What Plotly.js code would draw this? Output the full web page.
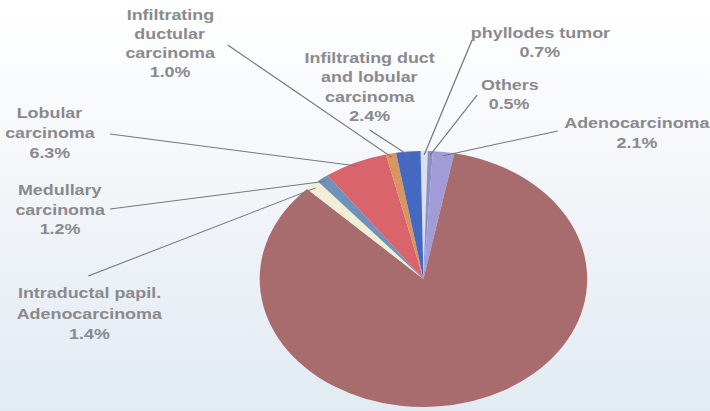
<!DOCTYPE html>
<html>
<head>
<meta charset="utf-8">
<script src="https://cdn.plot.ly/plotly-3.0.1.min.js"></script>
<style>
  html, body { margin: 0; padding: 0; width: 710px; height: 411px; overflow: hidden;
    background: linear-gradient(to bottom, #ffffff 0%, #f6f8fa 35%, #e9eff5 75%, #e2ebf3 100%); }
  #chart { width: 555px; height: 411px; transform: scaleX(1.2793); transform-origin: 0 0; }
</style>
</head>
<body>
<div id="chart"></div>
<script>
// ---- data (clockwise from 12 o'clock) ----
const categories = ['phyllodes tumor', 'Others', 'Adenocarcinoma', 'Infiltrating ductal carcinoma',
  'Intraductal papil. Adenocarcinoma', 'Medullary carcinoma', 'Lobular carcinoma',
  'Infiltrating ductular carcinoma', 'Infiltrating duct and lobular carcinoma'];
const percents = [0.7, 0.5, 2.1, 84.4, 1.4, 1.2, 6.3, 1.0, 2.4];
const showLabel = [true, true, true, false, true, true, true, true, true];
const labelNameLines = [
  ['phyllodes tumor'],
  ['Others'],
  ['Adenocarcinoma'],
  [],
  ['Intraductal papil.', 'Adenocarcinoma'],
  ['Medullary', 'carcinoma'],
  ['Lobular', 'carcinoma'],
  ['Infiltrating', 'ductular', 'carcinoma'],
  ['Infiltrating duct', 'and lobular', 'carcinoma']
];
const sliceColors = ['#dcdff0', '#8d8dc8', '#a19cd8', '#a86c6e', '#f2eed6', '#6f92bd',
  '#d9646c', '#d9955f', '#4568c0'];

// ---- layout (pixel positions in the unscaled 555x411 frame) ----
const W = 555, H = 411;
const pieCx = 331, pieCy = 279, pieR = 128;
const rotationDeg = -1;
// label block: center x, first-line y, line spacing; leader start
const labelPos = [
  {x: 422, y: 33, dy: 19, lx: 369, ly: 40},
  {x: 398, y: 85, dy: 19, lx: 373, ly: 95},
  {x: 498, y: 123, dy: 20, lx: 436, ly: 131},
  null,
  {x: 70, y: 293, dy: 20.5, lx: 69, ly: 276},
  {x: 47, y: 190, dy: 19.5, lx: 86, ly: 209},
  {x: 39, y: 113, dy: 20, lx: 86, ly: 134},
  {x: 133, y: 15, dy: 19, lx: 178, ly: 45},
  {x: 289, y: 58, dy: 19.3, lx: 289, ly: 130}
];

const px = v => v / W;
const py = v => 1 - v / H;

const total = percents.reduce((a, b) => a + b, 0);
const annotations = [];
const shapes = [];
let cum = 0;
percents.forEach((v, i) => {
  const mid = (rotationDeg + (cum + v / 2) / total * 360) * Math.PI / 180;
  cum += v;
  if (!showLabel[i]) return;
  const p = labelPos[i];
  const lines = labelNameLines[i].concat([v.toFixed(1) + '%']);
  lines.forEach((t, k) => {
    annotations.push({
      x: px(p.x), y: py(p.y + k * p.dy), xref: 'paper', yref: 'paper',
      text: t, showarrow: false, xanchor: 'center', yanchor: 'middle',
      font: {family: 'Liberation Sans, Arial, sans-serif', size: 14, color: '#8a8a8e', weight: 'bold'}
    });
  });
  const ex = pieCx + 0.97 * pieR * Math.sin(mid);
  const ey = pieCy - 0.97 * pieR * Math.cos(mid);
  shapes.push({
    type: 'line', xref: 'paper', yref: 'paper',
    x0: px(p.lx), y0: py(p.ly), x1: px(ex), y1: py(ey),
    line: {color: '#77777f', width: 1}
  });
});

const trace = {
  type: 'pie',
  labels: categories,
  values: percents,
  sort: false,
  direction: 'clockwise',
  rotation: rotationDeg,
  textinfo: 'none',
  hoverinfo: 'label+percent',
  marker: {colors: sliceColors, line: {width: 0}},
  domain: {
    x: [(pieCx - pieR) / W, (pieCx + pieR) / W],
    y: [1 - (pieCy + pieR) / H, 1 - (pieCy - pieR) / H]
  },
  showlegend: false
};

const layout = {
  width: W, height: H,
  margin: {l: 0, r: 0, t: 0, b: 0},
  paper_bgcolor: 'rgba(0,0,0,0)',
  plot_bgcolor: 'rgba(0,0,0,0)',
  showlegend: false,
  annotations: annotations,
  shapes: shapes
};

Plotly.newPlot('chart', [trace], layout, {displayModeBar: false, responsive: false, staticPlot: true});
</script>
</body>
</html>
